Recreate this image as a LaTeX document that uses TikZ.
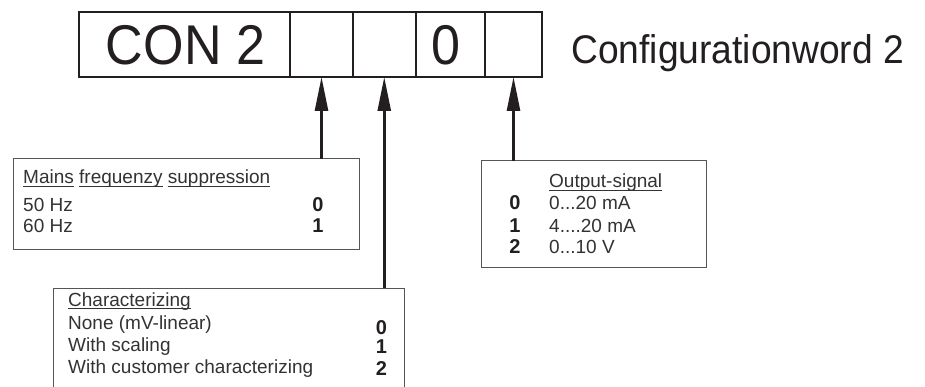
\documentclass[tikz,border=0pt]{standalone}
\usepackage{fontspec}
\setmainfont{Liberation Sans}
\newfontfamily\condfont[FakeStretch=0.93]{Liberation Sans}
\newfontfamily\digitfont{Liberation Sans Bold}
\usetikzlibrary{arrows.meta}
\definecolor{ink}{HTML}{231F20}
\definecolor{txt}{HTML}{333333}
\definecolor{frame}{HTML}{555555}

% underline one word at a fixed depth below the baseline
\newsavebox\uwordbox
\newcommand\uword[1]{\sbox\uwordbox{#1}\rlap{\rule[-3.2pt]{\wd\uwordbox}{0.9pt}}\usebox\uwordbox}

\tikzset{
  cell/.style={draw=ink, line width=2pt, rectangle, inner sep=0pt, outer sep=0pt, minimum height=65pt},
  big/.style={font=\condfont\fontsize{56}{60}\selectfont, text=ink, inner sep=0pt, anchor=base},
  title/.style={font=\condfont\fontsize{40}{44}\selectfont, text=ink, inner sep=0pt, anchor=base west},
  panel/.style={draw=frame, line width=1pt, rectangle, inner sep=0pt, outer sep=0pt},
  entry/.style={font=\fontsize{19}{22}\selectfont, text=txt, inner sep=0pt, anchor=base west},
  code/.style={font=\digitfont\fontsize{20}{22}\selectfont, text=ink, inner sep=0pt, anchor=base},
  pointer/.style={draw=ink, line width=2.6pt, -{Triangle[length=34pt,width=13pt]}}
}

\begin{document}
\begin{tikzpicture}[x=1pt,y=-1pt]
  \useasboundingbox[fill=white] (0,0) rectangle (925,387);

  % configuration word cells
  \node[cell, minimum width=211pt]  (cell1) at (184.5,44.5) {};
  \node[cell, minimum width=63pt]   (cell2) at (321.5,44.5) {};
  \node[cell, minimum width=62.5pt] (cell3) at (384.25,44.5) {};
  \node[cell, minimum width=69.5pt] (cell4) at (450.25,44.5) {};
  \node[cell, minimum width=57pt]   (cell5) at (513.5,44.5) {};
  \draw[ink, line width=2.8pt] (cell1.north west) rectangle (cell5.south east);

  \node[big] (con) at (185.5,65) {CON 2};
  \node[big] (zero) at (445.5,65) {0};
  \node[title] (word) at (571,64) {Configurationword 2};

  % mains frequency panel
  \node[panel, minimum width=345.5pt, minimum height=90pt] (mains) at (186.25,204) {};
  \node[entry] (m0) at (23,184) {\uword{Mains} \uword{frequenzy} \uword{suppression}};
  \node[entry] (m1) at (23,211.7) {50 Hz};
  \node[entry] (m2) at (23,233) {60 Hz};
  \node[code] (m1c) at (318,211.7) {0};
  \node[code] (m2c) at (318,233) {1};

  % output signal panel
  \node[panel, minimum width=225pt, minimum height=106pt] (output) at (593.5,214) {};
  \node[entry] (o0) at (549,188) {\uword{Output-signal}};
  \node[entry] (o1) at (549,210) {0...20 mA};
  \node[entry] (o2) at (549,232.7) {4....20 mA};
  \node[entry] (o3) at (549,253) {0...10 V};
  \node[code] (o1c) at (515,210) {0};
  \node[code] (o2c) at (515,232.7) {1};
  \node[code] (o3c) at (515,253) {2};

  % characterizing panel, open at the bottom
  \node[rectangle, inner sep=0pt, outer sep=0pt, minimum width=351pt, minimum height=110pt] (charbox) at (228.5,343) {};
  \draw[frame, line width=1pt] (charbox.south west) -- (charbox.north west) -- (charbox.north east) -- (charbox.south east);
  \node[entry] (c0) at (68,306) {\uword{Characterizing}};
  \node[entry] (c1) at (68,329) {None (mV-linear)};
  \node[entry] (c2) at (68,351) {With scaling};
  \node[entry] (c3) at (68,373) {With customer characterizing};
  \node[code] (c1c) at (381.5,334.5) {0};
  \node[code] (c2c) at (381.5,353) {1};
  \node[code] (c3c) at (381.5,375.5) {2};

  % pointers from the panels to their cells
  \draw[pointer] (mains.north -| cell2.south) -- (cell2.south);
  \draw[pointer] (charbox.north -| cell3.south) -- (cell3.south);
  \draw[pointer] (output.north -| cell5.south) -- (cell5.south);
\end{tikzpicture}
\end{document}
